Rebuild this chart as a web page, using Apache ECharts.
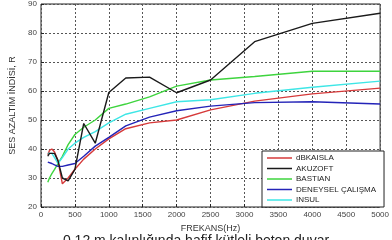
<!DOCTYPE html>
<html>
<head>
<meta charset="utf-8">
<script src="https://cdn.jsdelivr.net/npm/echarts@6/dist/echarts.min.js"></script>
<style>
  html, body { margin: 0; padding: 0; background: #fff; }
  #chart { width: 392px; height: 240px; }
</style>
</head>
<body>
<div id="chart"></div>
<script>
// third-octave frequencies (Hz)
var freqs = [100, 125, 160, 200, 250, 315, 400, 500, 630, 800, 1000, 1250, 1600, 2000, 2500, 3150, 4000, 5000];

var dbkaisla = [38, 39.5, 40, 39, 36, 28, 30, 33, 36.5, 40, 43.5, 47, 49, 50, 53.5, 56.5, 59, 61];
var akuzoft  = [37.5, 38.5, 38.5, 38.5, 36, 30, 29, 33, 48.8, 42, 59.5, 64.5, 64.8, 59.4, 63.8, 77, 83.3, 86.8];
var bastian  = [28.5, 30, 31.5, 33, 35, 37.5, 41.5, 45, 47.5, 50, 54, 55.5, 58, 61.7, 63.8, 65, 66.8, 66.8];
var deneysel = [35.5, 36, 35, 34.5, 34, 34, 34.5, 35, 37.5, 41, 44, 48, 51, 53.2, 54.8, 56, 56.3, 55.5];
var insul    = [38.5, 39, 38.5, 37, 35, 37, 40, 42, 44, 46, 49, 52, 54, 56.3, 57, 59.2, 61.3, 63.4];

var names = ['dBKAISLA', 'AKUZOFT', 'BASTIAN', 'DENEYSEL ÇALIŞMA', 'INSUL'];
var colors = ['#d63a3a', '#1a1a1a', '#3ed43e', '#2424b8', '#3ee6e6'];
var values = [dbkaisla, akuzoft, bastian, deneysel, insul];

function pairs(arr) {
    return freqs.map(function (f, i) { return [f, arr[i]]; });
}

var chart = echarts.init(document.getElementById('chart'), null, {renderer: 'canvas'});

var series = names.map(function (n, i) {
    return {
        name: n,
        type: 'line',
        data: pairs(values[i]),
        symbol: 'none',
        lineStyle: {width: 1.4, color: colors[i]},
        itemStyle: {color: colors[i]},
        z: i === 1 ? 3 : 2
    };
});

var option = {
    animation: false,
    textStyle: {fontFamily: 'Liberation Sans'},
    grid: {
        left: 41, right: 10, top: 4, bottom: 33,
        show: true, borderColor: '#222', borderWidth: 1
    },
    legend: {
        orient: 'vertical',
        left: 262, top: 151,
        icon: 'rect',
        itemWidth: 25, itemHeight: 1.5,
        itemGap: 2.5,
        backgroundColor: '#fff',
        borderColor: '#222', borderWidth: 1,
        padding: [3, 8, 3, 5],
        textStyle: {fontSize: 8, color: '#222', padding: [0, 0, 0, -1]},
        data: names
    },
    xAxis: {
        type: 'value', min: 0, max: 5000, interval: 500,
        name: 'FREKANS(Hz)', nameLocation: 'middle', nameGap: 14,
        nameTextStyle: {fontSize: 9, color: '#333'},
        axisLine: {show: false},
        axisTick: {inside: true, length: 3, lineStyle: {color: '#222'}},
        axisLabel: {fontSize: 8, color: '#444', margin: 4, formatter: function (v) { return String(v); }},
        splitLine: {lineStyle: {type: [2, 2], color: '#555', width: 1}}
    },
    yAxis: {
        type: 'value', min: 20, max: 90, interval: 10,
        name: 'SES AZALTIM İNDİSİ, R', nameLocation: 'middle', nameGap: 21,
        nameTextStyle: {fontSize: 9, color: '#333'},
        axisLine: {show: false},
        axisTick: {inside: true, length: 3, lineStyle: {color: '#222'}},
        axisLabel: {fontSize: 8, color: '#444', margin: 4},
        splitLine: {lineStyle: {type: [2, 2], color: '#555', width: 1}}
    },
    graphic: [{
        type: 'text',
        left: 'center',
        top: 234,
        style: {
            text: '0,12 m kalınlığında hafif kütleli beton duvar',
            font: '14px Liberation Sans',
            fill: '#222'
        }
    }],
    series: series
};

option && chart.setOption(option);
</script>
</body>
</html>
